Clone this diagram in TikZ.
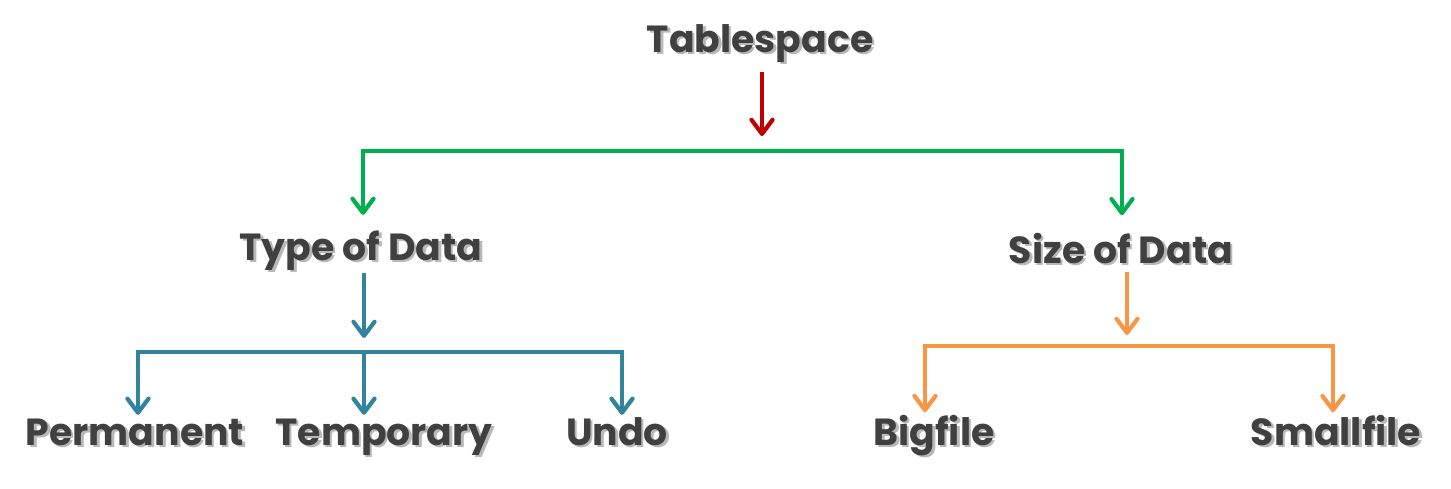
\documentclass[tikz,border=0pt]{standalone}
\usepackage{fontspec}
\setmainfont{Poppins}
\usepackage{tikz}
\usetikzlibrary{arrows.meta, positioning, calc}
\usepackage{xcolor}

% soft text shadow inside one node
\newcommand{\shtext}[1]{\makebox[0pt][l]{\raisebox{-1.4pt}{\hspace{1.4pt}\textcolor{black!28}{#1}}}#1}

\begin{document}
\begin{tikzpicture}[x=0.02cm, y=-0.02cm,
    lbl/.style={text=txtgray, font=\fontsize{21.5}{24}\selectfont\bfseries, inner sep=0pt,
        anchor=base, text height=17pt, text depth=5pt},
    link/.style={line width=2.4pt, line join=miter},
    tip/.style={-{Straight Barb[length=8pt, width=12pt, round]}},
    twotips/.style={{Straight Barb[length=8pt, width=12pt, round]}-{Straight Barb[length=8pt, width=12pt, round]}}]

% --- COLOURS ---
\definecolor{txtgray}{RGB}{64, 64, 64}     % labels
\definecolor{rootred}{RGB}{192, 0, 0}      % top arrow
\definecolor{splitgreen}{RGB}{0, 176, 80}  % first split
\definecolor{typeteal}{RGB}{49, 132, 155}  % type of data
\definecolor{sizeorange}{RGB}{247, 150, 70}% size of data

\useasboundingbox (0,0) rectangle (1451,488);

% --- LABELS (placed on their baselines) ---
\node[lbl] (ts)   at (760,52)   {\shtext{Tablespace}};
\node[lbl] (tod)  at (361,260)  {\shtext{Type of Data}};
\node[lbl] (sod)  at (1121,263) {\shtext{Size of Data}};
\node[lbl] (perm) at (135,445)  {\shtext{Permanent}};
\node[lbl] (temp) at (384,445)  {\shtext{Temporary}};
\node[lbl] (undo) at (617,445)  {\shtext{Undo}};
\node[lbl] (big)  at (934,445)  {\shtext{Bigfile}};
\node[lbl] (small)at (1336,445) {\shtext{Smallfile}};

% --- JUNCTION POINTS ---
\coordinate (rootend) at (762,136);
\coordinate (gL) at (363,151);
\coordinate (gR) at (1122,151);
\coordinate (tbar) at (364,352);
\coordinate (tL) at (138,352);
\coordinate (tR) at (622,352);
\coordinate (obar) at (1127,346);
\coordinate (oL) at (925,346);
\coordinate (oR) at (1333,346);

% --- TABLESPACE -> SPLIT ---
\draw[link, tip, rootred, shorten <=6.4pt] (ts.south -| rootend) -- (rootend);
\draw[link, twotips, splitgreen, shorten <=8.5pt, shorten >=10pt]
    (gL |- tod.north) -- (gL) -- (gR) -- (gR |- sod.north);

% --- TYPE OF DATA ---
\draw[link, tip, typeteal, shorten <=2.3pt, shorten >=8pt] (tod.south -| tbar) -- (tbar);
\draw[link, twotips, typeteal]
    (tL |- perm.north) -- (tL) -- (tR) -- (tR |- undo.north);
\draw[link, tip, typeteal] (tbar) -- (tbar |- temp.north);

% --- SIZE OF DATA ---
\draw[link, tip, sizeorange, shorten >=6.3pt] (sod.south -| obar) -- (obar);
\draw[link, twotips, sizeorange, shorten <=1.5pt, shorten >=1.5pt]
    (oL |- big.north) -- (oL) -- (oR) -- (oR |- small.north);

\end{tikzpicture}
\end{document}
